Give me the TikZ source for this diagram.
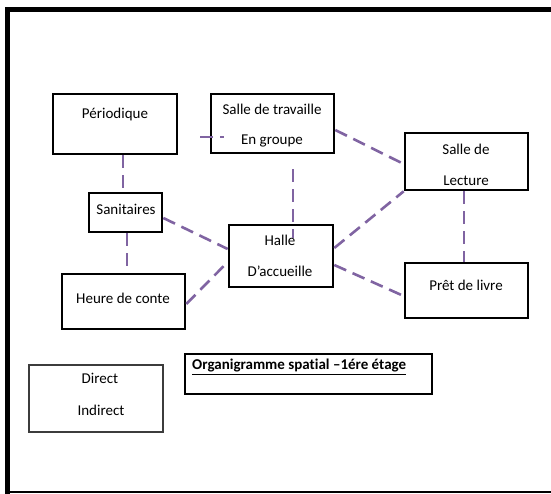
\documentclass[tikz,border=0pt]{standalone}
\usepackage{fontspec}
\setmainfont[Ligatures={NoCommon}]{Carlito}
\definecolor{linkpurple}{RGB}{128,100,162}
\definecolor{legendgray}{RGB}{60,60,60}
\begin{document}
\begin{tikzpicture}[x=1pt,y=-1pt,
  box/.style={draw=black,line width=2.6pt,rectangle,inner sep=0pt},
  legendbox/.style={draw=legendgray,line width=1.6pt,rectangle,inner sep=0pt},
  titlebox/.style={draw=black,line width=2pt,rectangle,inner sep=0pt},
  txt/.style={inner sep=0pt,font=\fontsize{15}{18}\selectfont},
  conn/.style={draw=linkpurple,line width=2.6pt,dash pattern=on 13pt off 7pt}]
\useasboundingbox (0,0) rectangle (551,494);
\fill[white] (0,0) rectangle (551,494);
% outer frame
\draw[line width=5pt] (7.5,494) -- (7.5,9.5) -- (551,9.5);
\draw[line width=1.2pt] (7.5,492) -- (551,492);
% boxes
\node[box,minimum width=124pt,minimum height=60pt] (perio) at (115,124) {};
\node[box,minimum width=123pt,minimum height=59pt] (trav) at (272.5,123.5) {};
\node[box,minimum width=73pt,minimum height=39pt] (sani) at (125.5,212.5) {};
\node[box,minimum width=104pt,minimum height=62pt] (halle) at (281,256) {};
\node[box,minimum width=123pt,minimum height=55pt] (heure) at (123.5,301.5) {};
\node[box,minimum width=123pt,minimum height=57pt] (lect) at (466.5,161.5) {};
\node[box,minimum width=123pt,minimum height=55pt] (pret) at (466.5,290.5) {};
\node[legendbox,minimum width=134pt,minimum height=67pt] (legend) at (96,398.5) {};
\node[titlebox,minimum width=247pt,minimum height=40pt] (titleb) at (308.5,374) {};
% texts
\node[txt] (tperio) at (115,115) {Périodique};
\node[txt] (ttrav1) at (272,109) {Salle de travaille};
\node[txt] (ttrav2) at (272,141) {En groupe};
\node[txt] (tsani) at (126,209) {Sanitaires};
\node[txt] (thalle1) at (280,240) {Halle};
\node[txt] (thalle2) at (280,271) {D’accueille};
\node[txt] (theure) at (123,298) {Heure de conte};
\node[txt] (tlect1) at (466,149) {Salle de};
\node[txt] (tlect2) at (466,181) {Lecture};
\node[txt] (tpret) at (466,285) {Prêt de livre};
\node[txt] (tdirect) at (100,378) {Direct};
\node[txt] (tindirect) at (101,410) {Indirect};
\node[txt,anchor=west,font=\fontsize{15}{18}\selectfont\bfseries] (ttitle) at (192,367) {\underline{Organigramme spatial –1ére étage}};
% connectors
\draw[conn] ([xshift=22pt,yshift=-13pt]perio.east) -- ([xshift=14pt,yshift=-13.5pt]trav.west);
\draw[conn] ([xshift=8pt]perio.south) -- ([xshift=-2.5pt]sani.north);
\draw[conn] ([xshift=20.5pt,yshift=-15pt]trav.south) -- ([xshift=12pt,yshift=-14pt]halle.north);
\draw[conn] ([yshift=-6.5pt]trav.east) -- ([yshift=-2.5pt]lect.west);
\draw[conn] ([yshift=8pt]halle.east) -- (lect.south west);
\draw[conn] ([yshift=-9pt]halle.east) -- ([yshift=-5.5pt]pret.west);
\draw[conn] ([xshift=-2.5pt]lect.south) -- ([xshift=-2.5pt]pret.north);
\draw[conn] ([yshift=-5.5pt]sani.east) -- ([yshift=7pt]halle.west);
\draw[conn] ([xshift=1.5pt]sani.south) -- ([xshift=3.5pt]heure.north);
\draw[conn] ([yshift=-2.5pt]heure.east) -- ([yshift=-6pt]halle.west);
\end{tikzpicture}
\end{document}
